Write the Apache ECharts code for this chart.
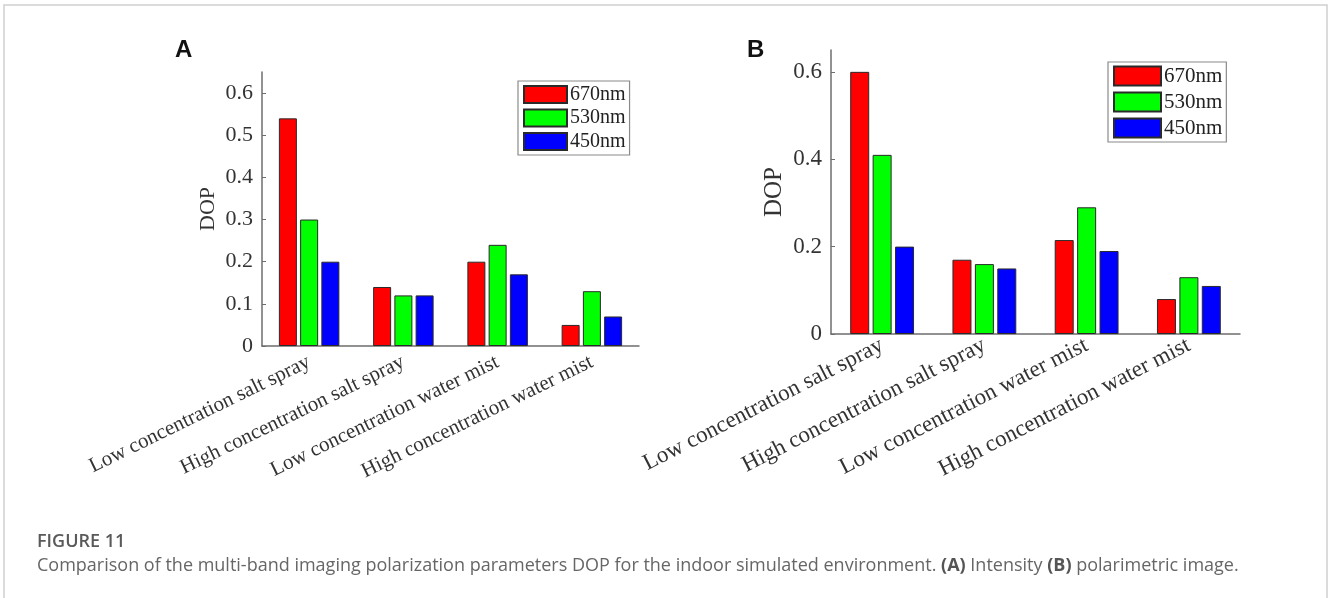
<!DOCTYPE html>
<html>
<head>
<meta charset="utf-8">
<script src="https://cdn.jsdelivr.net/npm/echarts@6/dist/echarts.min.js"></script>
<style>
  html, body { margin: 0; padding: 0; background: #fff; }
  #main { width: 1330px; height: 598px; }
</style>
</head>
<body>
<div id="main"></div>
<script>
// categories on the x axis (same for both panels)
const categories = [
  "Low concentration salt spray",
  "High concentration salt spray",
  "Low concentration water mist",
  "High concentration water mist"
];
const bands = ["670nm", "530nm", "450nm"];
const bandColors = ["#ff0000", "#00ff00", "#0000ff"];

// panel A - intensity
const dopA670 = [0.54, 0.14, 0.20, 0.05];
const dopA530 = [0.30, 0.12, 0.24, 0.13];
const dopA450 = [0.20, 0.12, 0.17, 0.07];

// panel B - polarimetric image
const dopB670 = [0.60, 0.17, 0.215, 0.08];
const dopB530 = [0.41, 0.16, 0.29, 0.13];
const dopB450 = [0.20, 0.15, 0.19, 0.11];

const serif = "'Liberation Serif', 'Times New Roman', serif";
const axisColor = "#6e6e6e";

const chart = echarts.init(document.getElementById("main"));

function xAxisFor(gridIndex, fontSize, margin, rotate) {
  return {
    type: "category",
    gridIndex: gridIndex,
    data: categories,
    axisLine: { show: true, lineStyle: { color: axisColor, width: 1.5 } },
    axisTick: { show: false },
    axisLabel: {
      interval: 0,
      rotate: rotate,
      margin: margin,
      color: "#333",
      fontFamily: serif,
      fontSize: fontSize
    }
  };
}

function yAxisFor(gridIndex, interval, fontSize, nameSize, nameGap) {
  return {
    type: "value",
    gridIndex: gridIndex,
    min: 0,
    max: 0.65,
    interval: interval,
    name: "DOP",
    nameLocation: "middle",
    nameGap: nameGap,
    nameTextStyle: { fontFamily: serif, fontSize: nameSize, color: "#333" },
    axisLine: { show: true, lineStyle: { color: axisColor, width: 1.5 } },
    axisTick: { show: true, inside: true, length: 4, lineStyle: { color: axisColor } },
    splitLine: { show: false },
    axisLabel: {
      showMaxLabel: false,
      margin: 9,
      color: "#333",
      fontFamily: serif,
      fontSize: fontSize
    }
  };
}

function barSeries(name, color, data, axisIdx, barWidth, barGap) {
  return {
    name: name,
    type: "bar",
    xAxisIndex: axisIdx,
    yAxisIndex: axisIdx,
    data: data,
    barWidth: barWidth,
    barGap: barGap,
    itemStyle: { color: color, borderColor: "#2a2a2a", borderWidth: 1 }
  };
}

function legendFor(left, top, iw, ih, gap, pad, fontSize) {
  return {
    orient: "vertical",
    left: left,
    top: top,
    data: bands,
    icon: "rect",
    itemWidth: iw,
    itemHeight: ih,
    itemGap: gap,
    padding: [pad, 4, pad, 5],
    backgroundColor: "#fff",
    borderColor: "#8a8a8a",
    borderWidth: 1.2,
    selectedMode: false,
    textStyle: { fontFamily: serif, fontSize: fontSize, color: "#222", padding: [0, 0, 0, -2] }
  };
}

const option = {
  animation: false,
  backgroundColor: "#fff",
  grid: [
    { left: 262, top: 72, width: 377, height: 274 },
    { left: 831, top: 50, width: 409, height: 284 }
  ],
  xAxis: [xAxisFor(0, 21, 15, 26), xAxisFor(1, 23, 10, 27)],
  yAxis: [yAxisFor(0, 0.1, 22, 22, 43), yAxisFor(1, 0.2, 23, 25, 44)],
  legend: [
    legendFor(518, 81, 43, 17, 3.5, 3.5, 20),
    legendFor(1108, 62, 47, 19, 5, 3.5, 21)
  ],
  series: [
    barSeries(bands[0], bandColors[0], dopA670, 0, 18, "18%"),
    barSeries(bands[1], bandColors[1], dopA530, 0, 18, "18%"),
    barSeries(bands[2], bandColors[2], dopA450, 0, 18, "18%"),
    barSeries(bands[0], bandColors[0], dopB670, 1, 19, "18%"),
    barSeries(bands[1], bandColors[1], dopB530, 1, 19, "18%"),
    barSeries(bands[2], bandColors[2], dopB450, 1, 19, "18%")
  ],
  graphic: [
    {
      type: "rect",
      silent: true,
      shape: { x: 4, y: 5, width: 1323, height: 640 },
      style: { fill: "none", stroke: "#cfcfcf", lineWidth: 1.5 }
    },
    {
      type: "text", left: 175, top: 38,
      style: { text: "A", font: "bold 24px 'Liberation Sans', Arial, sans-serif", fill: "#111" }
    },
    {
      type: "text", left: 747, top: 38,
      style: { text: "B", font: "bold 24px 'Liberation Sans', Arial, sans-serif", fill: "#111" }
    },
    {
      type: "text", left: 37, top: 533,
      style: { text: "FIGURE 11", font: "600 18px 'Open Sans', sans-serif", fill: "#5a5a5a" }
    },
    {
      type: "text", left: 37, top: 557,
      style: {
        rich: {
          n: { font: "18px 'Open Sans', sans-serif", fill: "#666" },
          b: { font: "bold 18px 'Open Sans', sans-serif", fill: "#555" }
        },
        text: "{n|Comparison of the multi-band imaging polarization parameters DOP for the indoor simulated environment. }{b|(A)}{n| Intensity }{b|(B)}{n| polarimetric image.}"
      }
    }
  ]
};

chart.setOption(option);
</script>
</body>
</html>
